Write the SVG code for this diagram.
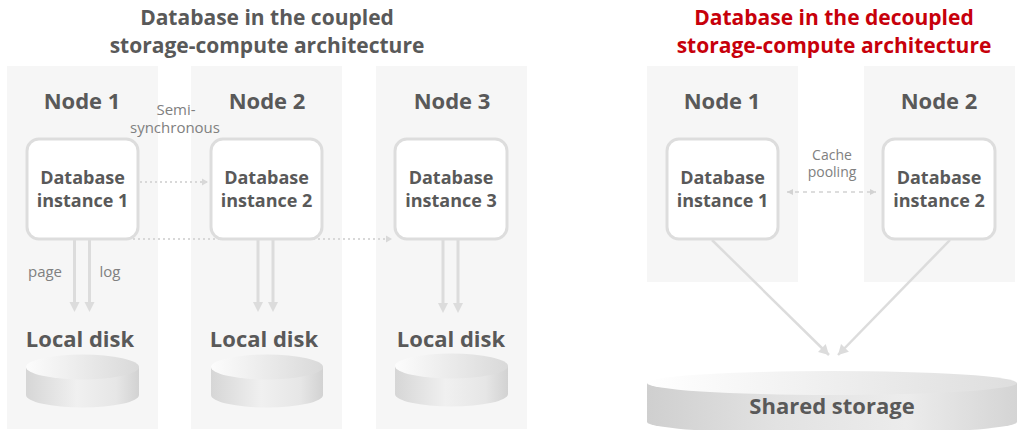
<svg xmlns="http://www.w3.org/2000/svg" width="1017" height="430" viewBox="0 0 1017 430">
  <defs>
    <style>
      .panel { fill: #f6f6f6; }
      .box { fill: #ffffff; stroke: #dddddd; stroke-width: 3; }
      .title { font-family: "Open Sans", "Liberation Sans", sans-serif; font-weight: 700; font-size: 21px; fill: #595959; text-anchor: middle; }
      .title-red { fill: #c7000b; }
      .node-label { font-family: "Open Sans", "Liberation Sans", sans-serif; font-weight: 700; font-size: 22px; fill: #595959; text-anchor: middle; }
      .inst { font-family: "Open Sans", "Liberation Sans", sans-serif; font-weight: 700; font-size: 18px; fill: #595959; text-anchor: middle; }
      .note { font-family: "Open Sans", "Liberation Sans", sans-serif; font-size: 15px; fill: #808080; text-anchor: middle; }
      .note-sm { font-family: "Open Sans", "Liberation Sans", sans-serif; font-size: 14px; fill: #808080; text-anchor: middle; }
      .io { fill: none; stroke: #dcdcdc; stroke-width: 3; }
      .sync { fill: none; stroke: #d8d8d8; stroke-width: 2; stroke-dasharray: 2 3; }
      .cache { fill: none; stroke: #d2d2d2; stroke-width: 1.5; stroke-dasharray: 4 4; }
      .diag { fill: none; stroke: #dcdcdc; stroke-width: 2.5; }
      .head { fill: #dcdcdc; }
      .disk-side { fill: url(#diskSide); }
      .disk-top { fill: url(#diskTop); }
    </style>
    <linearGradient id="diskSide" x1="0" y1="0" x2="1" y2="0">
      <stop offset="0" stop-color="#d6d6d6"/>
      <stop offset="0.45" stop-color="#f0f0f0"/>
      <stop offset="0.8" stop-color="#e6e6e6"/>
      <stop offset="1" stop-color="#d2d2d2"/>
    </linearGradient>
    <linearGradient id="diskTop" x1="0" y1="0" x2="1" y2="0">
      <stop offset="0" stop-color="#fcfcfc"/>
      <stop offset="1" stop-color="#d9d9d9"/>
    </linearGradient>
    <linearGradient id="sharedSide" x1="0" y1="0" x2="1" y2="0">
      <stop offset="0" stop-color="#cfcfcf"/>
      <stop offset="0.35" stop-color="#e2e2e2"/>
      <stop offset="0.7" stop-color="#ececec"/>
      <stop offset="1" stop-color="#d4d4d4"/>
    </linearGradient>
    <linearGradient id="sharedTop" x1="0" y1="0" x2="1" y2="0">
      <stop offset="0" stop-color="#ffffff"/>
      <stop offset="1" stop-color="#dedede"/>
    </linearGradient>
    <marker id="dotHead" markerUnits="userSpaceOnUse" markerWidth="8" markerHeight="8" refX="6" refY="4" orient="auto">
      <path d="M0,0.5 L6,4 L0,7.5 Z" fill="#d8d8d8"/>
    </marker>
    <marker id="cacheHead" markerUnits="userSpaceOnUse" markerWidth="8" markerHeight="8" refX="6" refY="4" orient="auto-start-reverse">
      <path d="M0,1 L6,4 L0,7 Z" fill="#d2d2d2"/>
    </marker>
    <marker id="diagHead" markerUnits="userSpaceOnUse" markerWidth="12" markerHeight="12" refX="10" refY="6" orient="auto">
      <path d="M0,0.5 L10,6 L0,11.5 Z" fill="#dcdcdc"/>
    </marker>
  </defs>

  <!-- headings -->
  <text class="title" x="267" y="24.5">Database in the coupled</text>
  <text class="title" x="267" y="52.5">storage-compute architecture</text>
  <text class="title title-red" x="834" y="24.5">Database in the decoupled</text>
  <text class="title title-red" x="834" y="52.5">storage-compute architecture</text>

  <!-- node panels (coupled) -->
  <rect class="panel" x="7" y="66" width="151" height="363"/>
  <rect class="panel" x="191" y="66" width="151" height="363"/>
  <rect class="panel" x="376" y="66" width="151" height="363"/>
  <!-- node panels (decoupled) -->
  <rect class="panel" x="647" y="66" width="151" height="216"/>
  <rect class="panel" x="864" y="66" width="151" height="216"/>

  <!-- connectors -->
  <g id="connectors">
    <line class="sync" x1="140" y1="182" x2="208" y2="182" marker-end="url(#dotHead)"/>
    <line class="sync" x1="133" y1="239" x2="392" y2="239" marker-end="url(#dotHead)"/>

    <line class="io" x1="74.5" y1="240" x2="74.5" y2="303"/>
    <line class="io" x1="89.5" y1="240" x2="89.5" y2="303"/>
    <polygon class="head" points="69.5,302 79.5,302 74.5,312"/>
    <polygon class="head" points="84.5,302 94.5,302 89.5,312"/>

    <line class="io" x1="258" y1="240" x2="258" y2="303"/>
    <line class="io" x1="273" y1="240" x2="273" y2="303"/>
    <polygon class="head" points="253,302 263,302 258,312"/>
    <polygon class="head" points="268,302 278,302 273,312"/>

    <line class="io" x1="443" y1="240" x2="443" y2="304"/>
    <line class="io" x1="458" y1="240" x2="458" y2="304"/>
    <polygon class="head" points="438,303 448,303 443,313"/>
    <polygon class="head" points="453,303 463,303 458,313"/>

    <line class="cache" x1="787" y1="192" x2="876" y2="192" marker-start="url(#cacheHead)" marker-end="url(#cacheHead)"/>
    <line class="diag" x1="712" y1="240" x2="829" y2="355" marker-end="url(#diagHead)"/>
    <line class="diag" x1="950" y1="240" x2="838" y2="355" marker-end="url(#diagHead)"/>
  </g>

  <!-- edge labels -->
  <text class="note" x="176" y="115">Semi-</text>
  <text class="note" x="175" y="133">synchronous</text>
  <text class="note" x="45" y="277">page</text>
  <text class="note" x="110" y="277">log</text>
  <text class="note-sm" x="832" y="160">Cache</text>
  <text class="note-sm" x="832" y="177">pooling</text>

  <!-- coupled: node 1 -->
  <g id="node1">
    <text class="node-label" x="82" y="109">Node 1</text>
    <rect class="box" x="27" y="139" width="111" height="100" rx="12"/>
    <text class="inst" x="82.5" y="184">Database</text>
    <text class="inst" x="82.5" y="207">instance 1</text>
  </g>
  <g id="disk1">
    <text class="node-label" x="80" y="347">Local disk</text>
    <path class="disk-side" d="M26,367 L26,395 A56.5,12.5 0 0 0 139,395 L139,367 Z"/>
    <ellipse class="disk-top" cx="82.5" cy="367" rx="56.5" ry="12.5"/>
  </g>

  <!-- coupled: node 2 -->
  <g id="node2">
    <text class="node-label" x="267" y="109">Node 2</text>
    <rect class="box" x="211" y="139" width="111" height="100" rx="12"/>
    <text class="inst" x="266.5" y="184">Database</text>
    <text class="inst" x="266.5" y="207">instance 2</text>
  </g>
  <g id="disk2">
    <text class="node-label" x="264" y="347">Local disk</text>
    <path class="disk-side" d="M211,367 L211,395 A56,12.5 0 0 0 323,395 L323,367 Z"/>
    <ellipse class="disk-top" cx="267" cy="367" rx="56" ry="12.5"/>
  </g>

  <!-- coupled: node 3 -->
  <g id="node3">
    <text class="node-label" x="452" y="109">Node 3</text>
    <rect class="box" x="395" y="139" width="112" height="100" rx="12"/>
    <text class="inst" x="451" y="184">Database</text>
    <text class="inst" x="451" y="207">instance 3</text>
  </g>
  <g id="disk3">
    <text class="node-label" x="451" y="347">Local disk</text>
    <path class="disk-side" d="M395,366 L395,394 A56.5,12.5 0 0 0 508,394 L508,366 Z"/>
    <ellipse class="disk-top" cx="451.5" cy="366" rx="56.5" ry="12.5"/>
  </g>

  <!-- decoupled: node 1 -->
  <g id="dnode1">
    <text class="node-label" x="722" y="109">Node 1</text>
    <rect class="box" x="667" y="139" width="111" height="100" rx="12"/>
    <text class="inst" x="722.5" y="184">Database</text>
    <text class="inst" x="722.5" y="207">instance 1</text>
  </g>

  <!-- decoupled: node 2 -->
  <g id="dnode2">
    <text class="node-label" x="939" y="109">Node 2</text>
    <rect class="box" x="883" y="139" width="112" height="100" rx="12"/>
    <text class="inst" x="939" y="184">Database</text>
    <text class="inst" x="939" y="207">instance 2</text>
  </g>

  <!-- decoupled: shared storage -->
  <g id="shared">
    <path d="M647,383 L647,422 A185,12 0 0 0 1017,422 L1017,383 Z" fill="url(#sharedSide)"/>
    <ellipse cx="832" cy="383" rx="185" ry="12" fill="url(#sharedTop)"/>
    <text class="node-label" x="832" y="414">Shared storage</text>
  </g>
</svg>
